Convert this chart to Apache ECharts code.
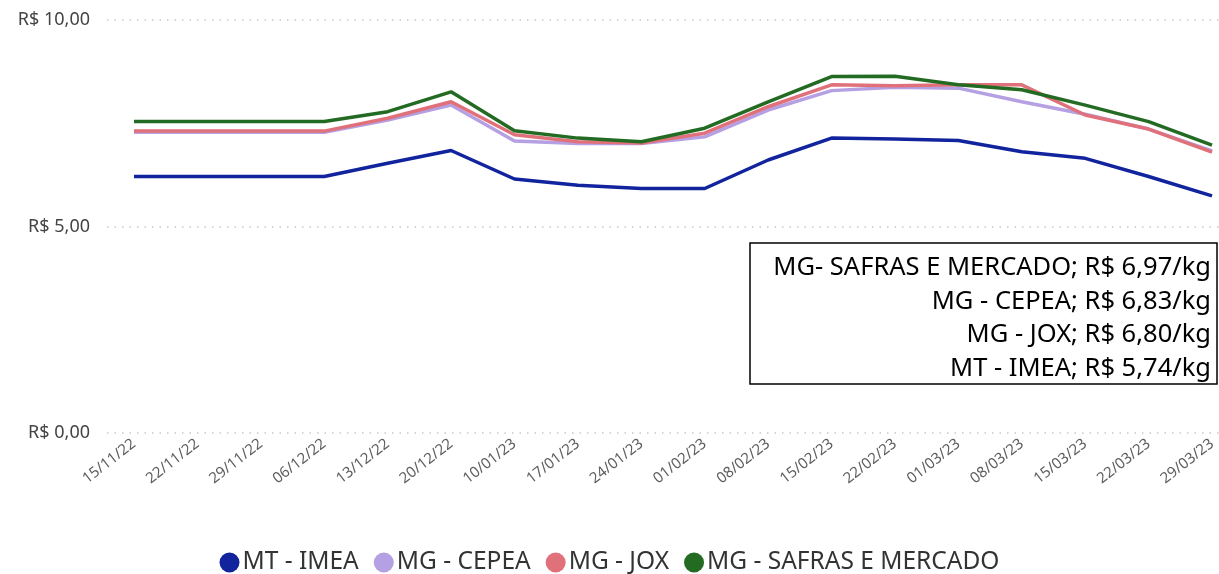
<!DOCTYPE html>
<html>
<head>
<meta charset="utf-8">
<script src="https://cdn.jsdelivr.net/npm/echarts@6/dist/echarts.min.js"></script>
<style>
  html, body { margin: 0; padding: 0; background: #fff; }
  #chart { width: 1219px; height: 574px; }
</style>
</head>
<body>
<div id="chart"></div>
<script>
const categories = [
  '15/11/22', '22/11/22', '29/11/22', '06/12/22', '13/12/22', '20/12/22',
  '10/01/23', '17/01/23', '24/01/23', '01/02/23', '08/02/23', '15/02/23',
  '22/02/23', '01/03/23', '08/03/23', '15/03/23', '22/03/23', '29/03/23',
]

const mtImea = [6.21, 6.21, 6.21, 6.21, 6.53, 6.84, 6.15, 6.00, 5.92, 5.92, 6.61, 7.14, 7.12, 7.08, 6.81, 6.65, 6.21, 5.74]
const mgCepea = [7.28, 7.28, 7.28, 7.28, 7.58, 7.94, 7.07, 7.01, 7.01, 7.17, 7.82, 8.29, 8.37, 8.35, 8.02, 7.72, 7.36, 6.83]
const mgJox = [7.31, 7.31, 7.31, 7.31, 7.62, 8.02, 7.22, 7.05, 7.02, 7.26, 7.90, 8.43, 8.41, 8.43, 8.43, 7.70, 7.36, 6.80]
const mgSafras = [7.54, 7.54, 7.54, 7.54, 7.78, 8.26, 7.32, 7.14, 7.05, 7.38, 8.02, 8.63, 8.64, 8.43, 8.31, 7.94, 7.54, 6.97]

const seriesNames = ['MT - IMEA', 'MG - CEPEA', 'MG - JOX', 'MG - SAFRAS E MERCADO']
const seriesColors = ['#12239e', '#b4a0e2', '#e0717a', '#236b22']

// labels used in the boxed note, top to bottom
const noteNames = ['MG- SAFRAS E MERCADO', 'MG - CEPEA', 'MG - JOX', 'MT - IMEA']
const noteValues = [mgSafras.at(-1), mgCepea.at(-1), mgJox.at(-1), mtImea.at(-1)]

const yTicks = [0, 5, 10]

const brl = v => 'R$ ' + v.toFixed(2).replace('.', ',')
const font = '"Noto Sans", sans-serif'

const chart = echarts.init(document.getElementById('chart'), null, { renderer: 'canvas' })

const noteText = noteNames.map((n, i) => `${n}; ${brl(noteValues[i])}/kg`).join('\n')

const yRange = { type: 'value', min: yTicks[0], max: yTicks[yTicks.length - 1], interval: 5 }

chart.setOption({
  backgroundColor: '#fff',
  animation: false,
  textStyle: { fontFamily: font },
  // grid 0 carries the y labels and dotted gridlines, grid 1 the lines
  grid: [
    { left: 107, right: 0, top: 20, bottom: 141 },
    { left: 134, right: 2, top: 20, bottom: 141 },
  ],
  legend: {
    top: 545,
    left: 'center',
    icon: 'circle',
    itemWidth: 20,
    itemHeight: 20,
    itemGap: 15,
    textStyle: { fontSize: 24.5, color: '#333', fontFamily: font, padding: [0, 0, 0, -2] },
    data: seriesNames,
  },
  xAxis: [
    { type: 'value', gridIndex: 0, show: false, min: 0, max: 1 },
    {
      type: 'category',
      gridIndex: 1,
      data: categories,
      boundaryGap: false,
      axisLine: { show: false },
      axisTick: { show: false },
      axisLabel: {
        rotate: 38,
        interval: 0,
        margin: 9,
        fontSize: 15,
        color: '#605e5c',
      },
    },
  ],
  yAxis: [
    {
      ...yRange,
      gridIndex: 0,
      axisLine: { show: false },
      axisTick: { show: false },
      axisLabel: { formatter: brl, fontSize: 18, color: '#444', margin: 17 },
      splitLine: { lineStyle: { color: '#c8c8c8', type: [1.5, 6], width: 1.5 } },
    },
    { ...yRange, gridIndex: 1, show: false, splitLine: { show: false } },
  ],
  series: [mtImea, mgCepea, mgJox, mgSafras].map((data, i) => ({
    name: seriesNames[i],
    type: 'line',
    xAxisIndex: 1,
    yAxisIndex: 1,
    data,
    symbol: 'none',
    color: seriesColors[i],
    lineStyle: { width: 3.5, color: seriesColors[i] },
    z: 2 + i,
  })),
  graphic: [
    {
      type: 'rect',
      z: 10,
      shape: { x: 750, y: 243, width: 467, height: 141 },
      style: { fill: '#fff', stroke: '#000', lineWidth: 1.5 },
    },
    {
      type: 'text',
      z: 11,
      x: 1211,
      y: 251,
      style: {
        text: noteText,
        align: 'right',
        verticalAlign: 'top',
        fontSize: 25.5,
        lineHeight: 33.5,
        fontFamily: font,
        fill: '#000',
      },
    },
  ],
})
</script>
</body>
</html>
